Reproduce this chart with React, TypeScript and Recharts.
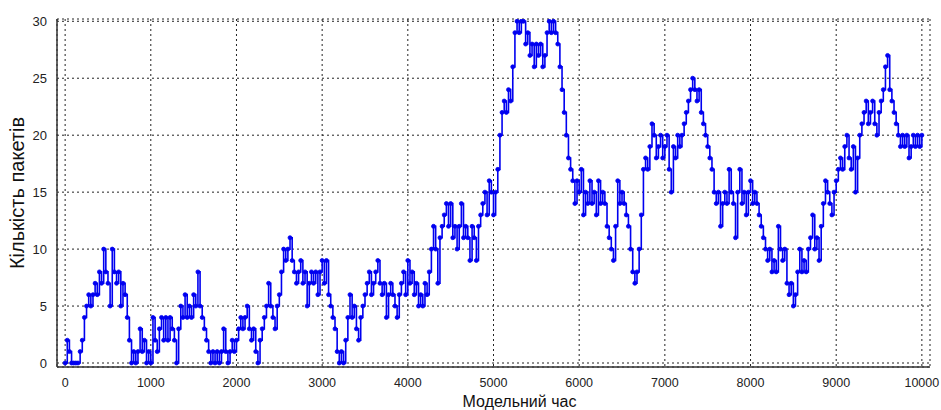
import React from 'react';
import { LineChart, Line, XAxis, YAxis, CartesianGrid } from 'recharts';

// sample spacing of the simulation output (model time units)
const STEP = 25;

// number of packets, one array per 1000 units of model time
const seg0 = [0, 2, 1, 0, 0, 0, 0, 1, 2, 4, 5, 6, 5, 6, 7, 6, 8, 7, 10, 8, 7, 5, 10, 8, 7, 8, 5, 7, 6, 4, 2, 0, 1, 0, 1, 3, 1, 2, 0, 1];
const seg1 = [0, 4, 2, 1, 3, 4, 2, 4, 2, 4, 3, 2, 0, 3, 5, 4, 6, 4, 5, 4, 6, 5, 8, 5, 4, 3, 2, 1, 0, 1, 0, 1, 0, 1, 3, 1, 0, 1, 2, 1];
const seg2 = [2, 3, 4, 3, 4, 5, 3, 2, 3, 1, 0, 2, 3, 4, 5, 7, 5, 4, 3, 5, 6, 8, 10, 9, 10, 11, 9, 8, 7, 8, 9, 7, 8, 5, 7, 8, 7, 8, 6, 8];
const seg3 = [9, 7, 9, 6, 5, 4, 3, 1, 0, 1, 0, 2, 4, 6, 4, 5, 3, 2, 4, 5, 6, 7, 8, 6, 7, 8, 9, 7, 6, 7, 4, 6, 7, 6, 5, 4, 6, 7, 8, 6];
const seg4 = [9, 7, 8, 6, 7, 5, 6, 5, 7, 6, 8, 10, 12, 10, 7, 11, 12, 13, 14, 12, 14, 11, 12, 10, 12, 14, 11, 12, 11, 9, 12, 11, 9, 12, 13, 14, 15, 13, 16, 15];
const seg5 = [13, 15, 17, 20, 22, 23, 22, 24, 23, 26, 29, 30, 29, 30, 30, 28, 29, 27, 28, 26, 28, 27, 28, 26, 27, 29, 30, 29, 30, 29, 28, 26, 24, 22, 20, 18, 17, 16, 14, 16];
const seg6 = [15, 17, 13, 15, 14, 16, 14, 15, 13, 16, 14, 15, 14, 12, 11, 10, 9, 12, 16, 14, 15, 14, 13, 12, 10, 8, 7, 8, 10, 13, 17, 18, 17, 19, 21, 20, 18, 19, 20, 18];
const seg7 = [19, 20, 17, 15, 19, 18, 20, 19, 20, 21, 22, 23, 24, 25, 24, 23, 24, 22, 21, 20, 19, 18, 17, 15, 14, 15, 12, 14, 15, 14, 17, 15, 14, 11, 15, 17, 14, 15, 13, 15];
const seg8 = [16, 14, 15, 14, 13, 12, 11, 10, 9, 10, 8, 9, 8, 12, 10, 9, 10, 7, 6, 7, 5, 6, 8, 10, 8, 9, 8, 10, 11, 13, 10, 11, 9, 12, 14, 16, 15, 14, 13, 15];
const seg9 = [16, 17, 18, 17, 19, 20, 18, 17, 19, 15, 18, 20, 21, 22, 23, 21, 22, 23, 21, 20, 22, 23, 24, 26, 27, 24, 23, 22, 21, 20, 19, 20, 19, 20, 18, 19, 20, 19, 20, 19, 20];

const segments = [seg0, seg1, seg2, seg3, seg4, seg5, seg6, seg7, seg8, seg9];

const xTicks = [0, 1000, 2000, 3000, 4000, 5000, 6000, 7000, 8000, 9000, 10000];
const yTicks = [0, 5, 10, 15, 20, 25, 30];

const xLabel = 'Модельний час';
const yLabel = 'Кількість пакетів';

const data = segments.flat().map((n, i) => ({ t: i * STEP, n }));

const X_DOMAIN: [number, number] = [-95, 10095];
const Y_DOMAIN: [number, number] = [-0.35, 30.2];

const FONT = '"Liberation Sans", Arial, sans-serif';
const FRAME = '#333333';
const BLUE = '#0000f0';

export default function App() {
  return (
    <div style={{ position: 'absolute', left: 0, top: 0, width: 941, height: 410, background: '#ffffff' }}>
      <LineChart
        width={941}
        height={410}
        data={data}
        margin={{ top: 19, right: 11, left: 0, bottom: 0 }}
        style={{ fontFamily: FONT }}
      >
        <CartesianGrid
          xAxisId="main"
          yAxisId="main"
          stroke="#222"
          strokeWidth={1}
          strokeDasharray="2 3"
        />
        <XAxis
          xAxisId="main"
          dataKey="t"
          type="number"
          domain={X_DOMAIN}
          ticks={xTicks}
          allowDataOverflow
          height={43}
          axisLine={{ stroke: FRAME, strokeWidth: 1.5 }}
          tickLine={false}
          tickMargin={5}
          tick={{ fill: '#222', fontSize: 12.5, fontFamily: FONT }}
          label={{ value: xLabel, position: 'insideBottom', offset: 3, dx: 26, style: { fill: '#111', fontSize: 16, fontFamily: FONT } }}
        />
        <XAxis
          xAxisId="top"
          orientation="top"
          dataKey="t"
          type="number"
          domain={X_DOMAIN}
          ticks={xTicks}
          allowDataOverflow
          height={0}
          mirror
          axisLine={{ stroke: FRAME, strokeWidth: 1.5 }}
          tickLine={{ stroke: FRAME, strokeWidth: 1.5 }}
          tickSize={5}
          tick={false}
        />
        <XAxis
          xAxisId="bottomTicks"
          orientation="bottom"
          dataKey="t"
          type="number"
          domain={X_DOMAIN}
          ticks={xTicks}
          allowDataOverflow
          height={0}
          mirror
          axisLine={false}
          tickLine={{ stroke: FRAME, strokeWidth: 1.5 }}
          tickSize={5}
          tick={false}
        />
        <YAxis
          yAxisId="main"
          type="number"
          domain={Y_DOMAIN}
          ticks={yTicks}
          allowDataOverflow
          width={57}
          axisLine={{ stroke: FRAME, strokeWidth: 1.5 }}
          tickLine={false}
          tickMargin={4}
          tick={{ fill: '#222', fontSize: 13, fontFamily: FONT }}
          label={{ value: yLabel, angle: -90, position: 'insideLeft', offset: 17, style: { textAnchor: 'middle', fill: '#111', fontSize: 20, fontFamily: FONT } }}
        />
        <YAxis
          yAxisId="leftTicks"
          orientation="left"
          type="number"
          domain={Y_DOMAIN}
          ticks={yTicks}
          allowDataOverflow
          width={0}
          mirror
          axisLine={false}
          tickLine={{ stroke: FRAME, strokeWidth: 1.5 }}
          tickSize={5}
          tick={false}
        />
        <YAxis
          yAxisId="right"
          orientation="right"
          type="number"
          domain={Y_DOMAIN}
          ticks={yTicks}
          allowDataOverflow
          width={0}
          mirror
          axisLine={{ stroke: FRAME, strokeWidth: 1.5 }}
          tickLine={{ stroke: FRAME, strokeWidth: 1.5 }}
          tickSize={5}
          tick={false}
        />
        <Line
          xAxisId="main"
          yAxisId="main"
          type="stepAfter"
          dataKey="n"
          stroke={BLUE}
          strokeWidth={1.6}
          dot={{ r: 2, fill: BLUE, stroke: BLUE, strokeWidth: 0.8 }}
          isAnimationActive={false}
        />
      </LineChart>
    </div>
  );
}
